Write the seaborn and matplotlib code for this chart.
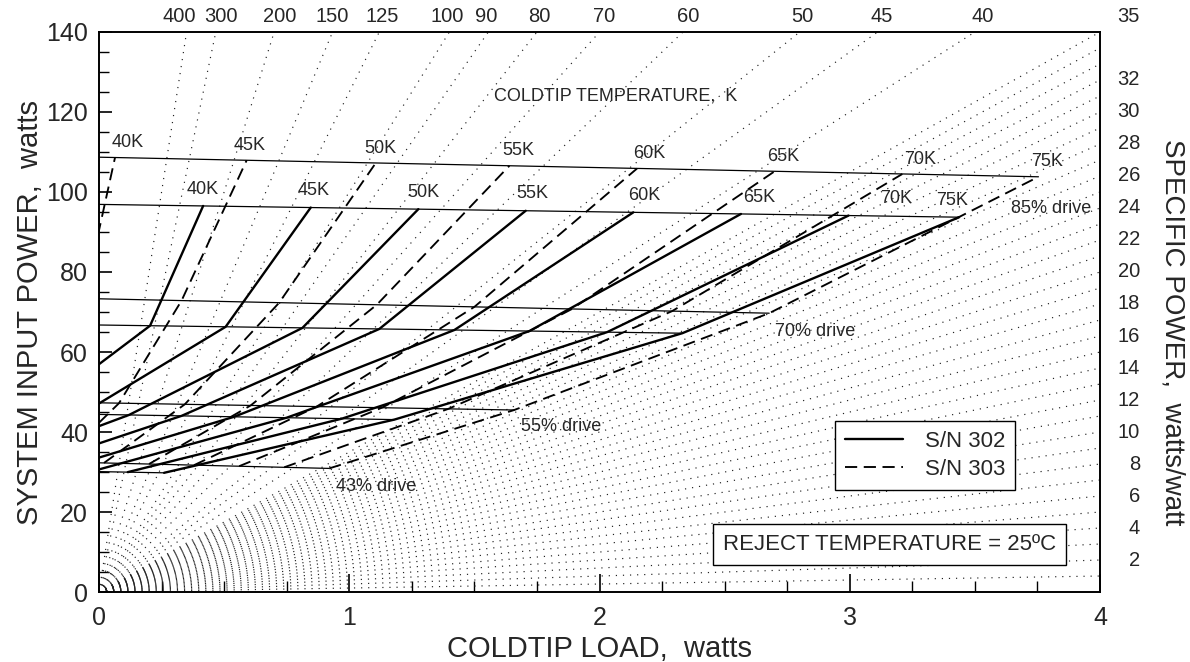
import numpy as np
import pandas as pd
import seaborn as sns
import matplotlib
matplotlib.use('Agg')
import matplotlib.pyplot as plt
import matplotlib.transforms as mtransforms
from matplotlib.lines import Line2D
from matplotlib.ticker import MultipleLocator

# ---- data ----
temps = [40, 45, 50, 55, 60, 65, 70, 75]
drives = [43, 55, 70, 85]
drive_labels = ['43% drive', '55% drive', '70% drive', '85% drive']

# S/N 302 (solid): coldtip load (W) and input power (W) per temperature
load_302_43 = [-0.755, -0.61, -0.465, -0.32, -0.175, -0.03, 0.115, 0.26]
power_302_43 = [30.97, 30.80, 30.63, 30.47, 30.30, 30.13, 29.97, 29.80]
load_302_55 = [-0.26, -0.07, 0.12, 0.33, 0.54, 0.75, 0.97, 1.18]
power_302_55 = [44.69, 44.48, 44.27, 44.04, 43.81, 43.58, 43.33, 43.10]
load_302_70 = [0.204, 0.506, 0.813, 1.12, 1.42, 1.72, 2.03, 2.331]
power_302_70 = [66.57, 66.30, 66.03, 65.76, 65.50, 65.24, 64.96, 64.70]
load_302_85 = [0.416, 0.846, 1.276, 1.705, 2.135, 2.565, 2.995, 3.437]
power_302_85 = [96.51, 96.11, 95.71, 95.31, 94.91, 94.51, 94.11, 93.70]

# S/N 303 (dashed)
load_303_43 = [-0.34, -0.16, 0.02, 0.20, 0.38, 0.56, 0.74, 0.92]
power_303_43 = [32.82, 32.54, 32.27, 32.00, 31.72, 31.45, 31.18, 30.90]
load_303_55 = [-0.18, 0.08, 0.343, 0.606, 0.87, 1.13, 1.396, 1.659]
power_303_55 = [47.50, 47.21, 46.93, 46.64, 46.36, 46.07, 45.79, 45.50]
load_303_70 = [-0.06, 0.33, 0.72, 1.11, 1.50, 1.89, 2.29, 2.678]
power_303_70 = [73.38, 72.86, 72.33, 71.81, 71.28, 70.76, 70.22, 69.70]
load_303_85 = [0.064, 0.59, 1.106, 1.64, 2.15, 2.70, 3.21, 3.754]
power_303_85 = [108.62, 107.93, 107.26, 106.56, 105.87, 105.18, 104.50, 103.80]

# input power at zero load for each drive line (43, 55, 70, 85 %)
zero_load_302 = [30.1, 44.4, 66.75, 96.9]
zero_load_303 = [32.3, 47.3, 73.3, 108.7]

# dotted reference lines through the origin (watts/watt)
specific_power = list(range(1, 36))
temp_lines = [400, 300, 200, 150, 125, 100, 90, 80, 70, 60, 50, 45, 40]
right_labels = [2, 4, 6, 8, 10, 12, 14, 16, 18, 20, 22, 24, 26, 28, 30, 32, 35]

# ---- build tables ----
units = {
    'S/N 302': ([load_302_43, load_302_55, load_302_70, load_302_85],
                [power_302_43, power_302_55, power_302_70, power_302_85],
                zero_load_302),
    'S/N 303': ([load_303_43, load_303_55, load_303_70, load_303_85],
                [power_303_43, power_303_55, power_303_70, power_303_85],
                zero_load_303),
}

rows = []
drive_rows = []
for unit, (loads, powers, zeros) in units.items():
    for d, xs, ys, y0 in zip(drives, loads, powers, zeros):
        for t, x, y in zip(temps, xs, ys):
            rows.append(dict(unit=unit, drive=d, temp=t, load=x, power=y))
        drive_rows.append(dict(unit=unit, drive=d, load=0.0, power=y0))
        drive_rows.append(dict(unit=unit, drive=d, load=xs[-1], power=ys[-1]))
df = pd.DataFrame(rows).sort_values(['unit', 'temp', 'drive'])
df_drive = pd.DataFrame(drive_rows)

ray_rows = []
for s in specific_power + temp_lines:
    ray_rows.append(dict(slope=s, load=0.0, power=0.0))
    ray_rows.append(dict(slope=s, load=4.0, power=4.0 * s))
df_rays = pd.DataFrame(ray_rows)

# ---- plot ----
sns.set_theme(style='white')
plt.rcParams['font.family'] = ['Liberation Sans', 'DejaVu Sans']

fig, ax = plt.subplots(figsize=(11.9, 6.62), dpi=100)
fig.subplots_adjust(left=0.0832, right=0.9244, bottom=0.1057, top=0.9517)

sns.lineplot(data=df_rays, x='load', y='power', units='slope', estimator=None,
             sort=False, color='#222222', lw=0.85, ls=(0, (1, 5)), ax=ax,
             legend=False, zorder=1)

sns.lineplot(data=df_drive, x='load', y='power', units='drive', hue='unit',
             palette=['black', 'black'], estimator=None, sort=False, lw=0.9,
             ax=ax, legend=False, zorder=2)

line_style = {'S/N 302': dict(lw=1.7, ls='-'),
              'S/N 303': dict(lw=1.35, ls=(0, (6.5, 3.5)))}
for unit, sub in df.groupby('unit'):
    sns.lineplot(data=sub, x='load', y='power', units='temp', estimator=None,
                 sort=False, color='black', ax=ax, legend=False, zorder=3,
                 **line_style[unit])

ax.set_xlim(0, 4)
ax.set_ylim(0, 140)
ax.xaxis.set_major_locator(MultipleLocator(1))
ax.xaxis.set_minor_locator(MultipleLocator(0.25))
ax.yaxis.set_major_locator(MultipleLocator(20))
ax.yaxis.set_minor_locator(MultipleLocator(5))
ax.tick_params(which='both', direction='in', top=False, right=False,
               bottom=True, left=True, color='black')
ax.tick_params(axis='x', which='major', length=13, width=1.2, labelsize=18, pad=10)
ax.tick_params(axis='x', which='minor', length=8, width=1.0)
ax.tick_params(axis='y', which='major', length=9, width=1.2, labelsize=18, pad=8)
ax.tick_params(axis='y', which='minor', length=7, width=1.0)
for sp in ax.spines.values():
    sp.set_color('black')
    sp.set_linewidth(1.4)
ax.set_xlabel('')
ax.set_ylabel('')

# axis titles
ax.text(0.5, -0.102, 'COLDTIP LOAD,  watts', transform=ax.transAxes,
        ha='center', va='center', fontsize=21)
ax.text(-0.069, 0.5, 'SYSTEM INPUT POWER,  watts', transform=ax.transAxes,
        ha='center', va='center', rotation=90, fontsize=21)
ax.text(1.072, 0.464, 'SPECIFIC POWER,  watts/watt', transform=ax.transAxes,
        ha='center', va='center', rotation=270, fontsize=20)

# top (coldtip temperature) and right (specific power) scale labels
top_shift = [-0.03, 0.02, 0.02, 0.0, 0.01, -0.01, -0.01, 0.01, 0.02, 0.02, 0.01, 0.015, 0.03]
top_tr = mtransforms.blended_transform_factory(ax.transData, ax.transAxes)
for t, dx in zip(temp_lines, top_shift):
    ax.text(140.0 / t + dx, 1.027, str(t), transform=top_tr, ha='center',
            va='center', fontsize=14.5, clip_on=False)
right_tr = mtransforms.blended_transform_factory(ax.transAxes, ax.transData)
for s in right_labels:
    if 4 * s < 140:
        ax.text(1.04, 4 * s, str(s), transform=right_tr, ha='right',
                va='center', fontsize=14.5, clip_on=False)
    else:
        ax.text(1.04, 1.027, str(s), transform=ax.transAxes, ha='right',
                va='center', fontsize=14.5, clip_on=False)

ax.text(1.58, 124.0, 'COLDTIP TEMPERATURE,  K', ha='left', va='center', fontsize=13)

# temperature labels at the 85% drive ends
label_dx_302 = [0.0, 0.01, 0.02, 0.025, 0.045, 0.075, 0.19, -0.03]
label_dx_303 = [0.05, 0.01, 0.02, 0.035, 0.05, 0.035, 0.07, 0.035]
for t, x, y, dx in zip(temps, load_302_85, power_302_85, label_dx_302):
    ax.text(x + dx, y + 4.2, f'{t}K', ha='center', va='center', fontsize=13)
for t, x, y, dx in zip(temps, load_303_85, power_303_85, label_dx_303):
    ax.text(x + dx, y + 3.7, f'{t}K', ha='center', va='center', fontsize=13)

# drive labels
drive_label_pos = [(0.946, 26.3), (1.685, 41.3), (2.70, 65.1), (3.643, 95.9)]
for lab, (x, y) in zip(drive_labels, drive_label_pos):
    ax.text(x, y, lab, ha='left', va='center', fontsize=13)

handles = [Line2D([], [], color='black', **line_style['S/N 302']),
           Line2D([], [], color='black', **line_style['S/N 303'])]
leg = ax.legend(handles, list(units.keys()), loc='upper left',
                bbox_to_anchor=(0.735, 0.305), borderaxespad=0, frameon=True,
                fancybox=False, edgecolor='black', framealpha=1, fontsize=16,
                handlelength=2.6, handletextpad=1.0, borderpad=0.45,
                labelspacing=0.3)
leg.get_frame().set_linewidth(1.0)
leg.set_zorder(5)

ax.text(0.79, 0.0857, 'REJECT TEMPERATURE = 25ºC', transform=ax.transAxes,
        ha='center', va='center', fontsize=16, zorder=5,
        bbox=dict(boxstyle='square,pad=0.45', fc='white', ec='black', lw=1.0))

plt.savefig('out.png', dpi=100)
plt.close()
